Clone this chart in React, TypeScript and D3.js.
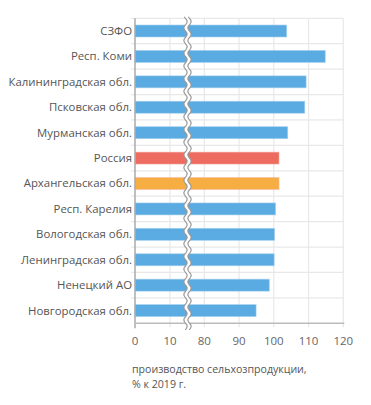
import React from 'react';
import * as d3 from 'd3';

const regions = [
  'СЗФО',
  'Респ. Коми',
  'Калининградская обл.',
  'Псковская обл.',
  'Мурманская обл.',
  'Россия',
  'Архангельская обл.',
  'Респ. Карелия',
  'Вологодская обл.',
  'Ленинградская обл.',
  'Ненецкий АО',
  'Новгородская обл.',
];
const values = [103.7, 114.8, 109.3, 108.9, 104.0, 101.5, 101.5, 100.5, 100.2, 100.1, 98.7, 94.9];
const highlight: Record<string, string> = { 'Россия': '#ee6b60', 'Архангельская обл.': '#f6ae42' };
const leftTicks = [0, 10];
const rightTicks = [80, 90, 100, 110, 120];
const titleLines = ['производство сельхозпродукции,', '% к 2019 г.'];

const W = 371, H = 405;
const top = 18.3, bottom = 323.3;
const x0 = 135, breakL = 185.5, breakR = 189.5;

const font = "'Open Sans', sans-serif";

export default function App() {
  const xLeft = d3.scaleLinear().domain([0, 10]).range([x0, 170]);
  const xRight = d3.scaleLinear().domain([80, 120]).range([204.3, 343.3]);
  const y = d3.scaleBand<string>().domain(regions).range([top, bottom]).paddingInner(0.53).paddingOuter(0.265);
  const rows = d3.scaleBand<string>().domain(regions).range([top, bottom]);

  // wavy break lines
  const wave = (x: number) => {
    const pts: [number, number][] = d3.range(top - 1.5, bottom + 7, 0.5).map((yy) => [x + 1.6 * Math.sin(((yy - top) / 12.7) * 2 * Math.PI), yy]);
    return pts;
  };
  const lineGen = d3.line<[number, number]>();
  const wl = wave(breakL);
  const wr = wave(breakR);
  const gapShape = lineGen([...wl, ...wr.slice().reverse()]) + 'Z';

  return (
    <svg width={W} height={H} style={{ position: 'absolute', left: 0, top: 0, background: '#fff' }}>
      {/* horizontal grid between rows */}
      {regions.map((r) => (
        <line key={'h' + r} x1={131} x2={xRight(120)} y1={rows(r)!} y2={rows(r)!} stroke="#e8e8e8" strokeWidth={1.2} />
      ))}
      {/* vertical grid */}
      {leftTicks.filter((t) => t > 0).map((t) => (
        <line key={'vl' + t} x1={xLeft(t)} x2={xLeft(t)} y1={top} y2={bottom + 4} stroke="#e8e8e8" strokeWidth={1.2} />
      ))}
      {rightTicks.map((t) => (
        <line key={'vr' + t} x1={xRight(t)} x2={xRight(t)} y1={top} y2={bottom + 4} stroke="#e8e8e8" strokeWidth={1.2} />
      ))}
      {/* bars */}
      {regions.map((r, i) => (
        <rect
          key={'b' + r}
          x={x0}
          y={y(r)!}
          width={xRight(values[i]) - x0}
          height={y.bandwidth()}
          fill={highlight[r] || '#5aabe1'}
          stroke={highlight[r] ? '#f5b5a8' : '#9dcdf0'}
          strokeOpacity={0.7}
          strokeWidth={0.8}
        />
      ))}
      {/* axes */}
      <line x1={x0} x2={x0} y1={top} y2={bottom + 5} stroke="#aaaaaa" strokeWidth={1.5} />
      <line x1={x0} x2={xRight(120) + 1} y1={bottom} y2={bottom} stroke="#bbbbbb" strokeWidth={1.5} />
      {/* break */}
      <path d={gapShape} fill="#fff" stroke="none" />
      <path d={lineGen(wl)!} fill="none" stroke="#999" strokeWidth={1.2} />
      <path d={lineGen(wr)!} fill="none" stroke="#999" strokeWidth={1.2} />
      {/* category labels */}
      {regions.map((r) => (
        <text
          key={'t' + r}
          x={132}
          y={rows(r)! + rows.bandwidth() / 2}
          dy="0.35em"
          textAnchor="end"
          fontFamily={font}
          fontSize={11.4}
          fill="#555"
        >
          {r}
        </text>
      ))}
      {/* tick labels */}
      {leftTicks.map((t) => (
        <text key={'tl' + t} x={xLeft(t)} y={345} textAnchor="middle" fontFamily={font} fontSize={11.5} fill="#666">
          {t}
        </text>
      ))}
      {rightTicks.map((t) => (
        <text key={'tr' + t} x={xRight(t)} y={345} textAnchor="middle" fontFamily={font} fontSize={11.5} fill="#666">
          {t}
        </text>
      ))}
      {titleLines.map((l, i) => (
        <text key={'ti' + i} x={132} y={373 + i * 15} fontFamily={font} fontSize={10.6} fill="#555">
          {l}
        </text>
      ))}
    </svg>
  );
}
